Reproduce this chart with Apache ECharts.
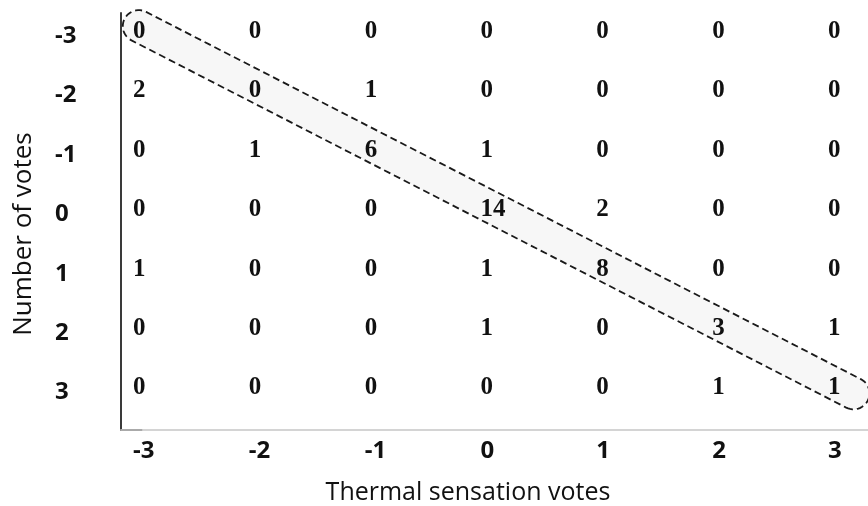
<!DOCTYPE html>
<html>
<head>
<meta charset="utf-8">
<script src="https://cdn.jsdelivr.net/npm/echarts@6/dist/echarts.min.js"></script>
<style>
html,body{margin:0;padding:0;background:#fff;}
#chart{width:868px;height:506px;}
</style>
</head>
<body>
<div id="chart"></div>
<script>
// Thermal sensation votes (x) vs rows (y)
const xTicks = [-3, -2, -1, 0, 1, 2, 3];
const yTicks = [-3, -2, -1, 0, 1, 2, 3];
const rowM3 = [0, 0, 0, 0, 0, 0, 0];
const rowM2 = [2, 0, 1, 0, 0, 0, 0];
const rowM1 = [0, 1, 6, 1, 0, 0, 0];
const row0  = [0, 0, 0, 14, 2, 0, 0];
const row1  = [1, 0, 0, 1, 8, 0, 0];
const row2  = [0, 0, 0, 1, 0, 3, 1];
const row3  = [0, 0, 0, 0, 0, 1, 1];
const rows = [rowM3, rowM2, rowM1, row0, row1, row2, row3];
const xTitle = 'Thermal sensation votes';
const yTitle = 'Number of votes';
// diagonal band (start x, start y, end x, end y) in vote units
const band = [[-2.95, -3.09, 3.22, 3.09]];

const cells = [];
rows.forEach((r, i) => r.forEach((v, j) => cells.push([xTicks[j], yTicks[i], v])));

const chart = echarts.init(document.getElementById('chart'), null, {renderer: 'canvas'});
const sansBold = {fontFamily: '"Open Sans"', fontWeight: 'bold', fontSize: 24, color: '#111'};

chart.setOption({
  animation: false,
  backgroundColor: '#fff',
  grid: [
    {left: 121, right: 0, top: 13, bottom: 76},
    {left: 133, right: 40, top: 31.5, bottom: 118},
    {left: 143, right: 0, top: 13, bottom: 76},
    {left: 133, right: 40, top: 36, bottom: 113.5}
  ],
  xAxis: [
    {gridIndex: 0, type: 'value', min: 0, max: 1, axisLabel: {show: false}, axisTick: {show: false},
     splitLine: {show: false}, axisLine: {lineStyle: {color: '#aaa', width: 2}}},
    {gridIndex: 1, type: 'value', min: -3, max: 3, interval: 1,
     axisLine: {show: false}, axisTick: {show: false}, splitLine: {show: false},
     axisLabel: Object.assign({align: 'left', margin: 51}, sansBold)},
    {gridIndex: 2, type: 'value', position: 'top', min: 0, max: 1, axisLabel: {show: false}, axisTick: {show: false},
     splitLine: {show: false}, axisLine: {lineStyle: {color: '#d4d4d4', width: 2}}},
    {gridIndex: 3, type: 'value', min: -3, max: 3, show: false}
  ],
  yAxis: [
    {gridIndex: 0, type: 'value', min: 0, max: 1, axisLabel: {show: false}, axisTick: {show: false},
     splitLine: {show: false}, axisLine: {lineStyle: {color: '#3a3a3a', width: 2}}},
    {gridIndex: 1, type: 'value', min: -3, max: 3, interval: 1, inverse: true, show: false},
    {gridIndex: 2, type: 'value', min: 0, max: 1, show: false},
    {gridIndex: 3, type: 'value', min: -3, max: 3, interval: 1, inverse: true,
     axisLine: {show: false}, axisTick: {show: false}, splitLine: {show: false},
     axisLabel: Object.assign({align: 'left', margin: 78}, sansBold)}
  ],
  graphic: [
    {type: 'text', x: 468, y: 493, style: {text: xTitle, align: 'center', verticalAlign: 'middle',
      font: '25px "Open Sans"', fill: '#111'}},
    {type: 'text', x: 24, y: 234, rotation: Math.PI / 2, style: {text: yTitle, align: 'center', verticalAlign: 'middle',
      font: '26px "Open Sans"', fill: '#111'}}
  ],
  series: [
    {
      type: 'custom', xAxisIndex: 1, yAxisIndex: 1, z: 1, silent: true,
      data: band,
      renderItem: function (params, api) {
        const a = api.coord([api.value(0), api.value(1)]);
        const b = api.coord([api.value(2), api.value(3)]);
        const r = 16;
        const dx = b[0] - a[0], dy = b[1] - a[1];
        const len = Math.sqrt(dx * dx + dy * dy);
        const nx = -dy / len, ny = dx / len;
        const t0 = Math.atan2(ny, nx);
        const pts = [];
        const N = 24;
        for (let k = 0; k <= N; k++) {
          const t = t0 - Math.PI * k / N;
          pts.push([b[0] + r * Math.cos(t), b[1] + r * Math.sin(t)]);
        }
        for (let k = 0; k <= N; k++) {
          const t = t0 - Math.PI - Math.PI * k / N;
          pts.push([a[0] + r * Math.cos(t), a[1] + r * Math.sin(t)]);
        }
        return {
          type: 'polygon',
          shape: {points: pts},
          style: {fill: '#f7f7f7', stroke: '#1a1a1a', lineWidth: 1.8, lineDash: [7, 4]}
        };
      }
    },
    {
      type: 'custom', xAxisIndex: 1, yAxisIndex: 1, z: 2, silent: true,
      data: cells,
      renderItem: function (params, api) {
        const p = api.coord([api.value(0), api.value(1)]);
        return {
          type: 'text',
          x: p[0], y: p[1],
          style: {text: String(api.value(2)), align: 'left', verticalAlign: 'middle',
            font: 'bold 25px "Liberation Serif"', fill: '#111'}
        };
      }
    }
  ]
});
</script>
</body>
</html>
